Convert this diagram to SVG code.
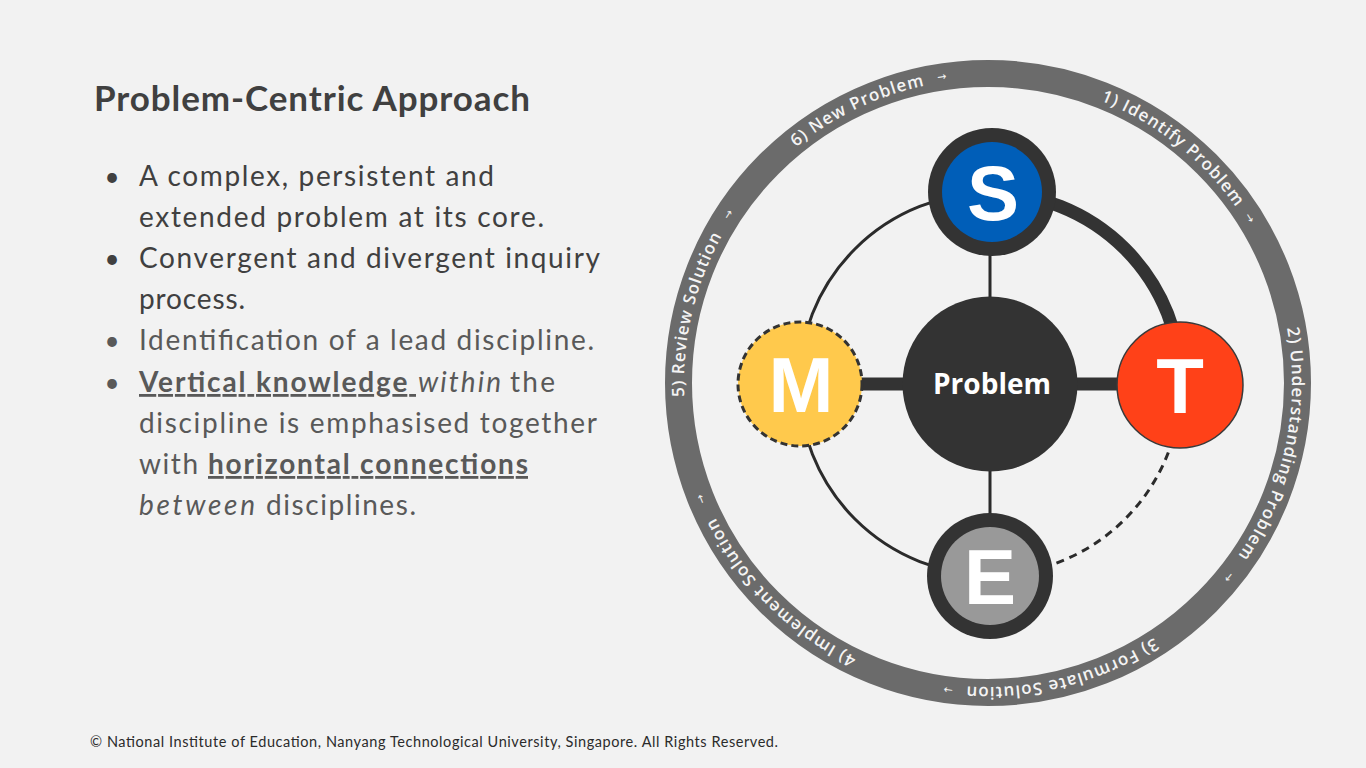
<svg xmlns="http://www.w3.org/2000/svg" width="1366" height="768" viewBox="0 0 1366 768">
  <style>
    .title { font-family: Lato, "Open Sans", sans-serif; font-weight: 700; font-size: 35px; fill: #404040; }
    .body { font-family: Lato, "Open Sans", sans-serif; font-size: 28px; fill: #404040; }
    .soft { fill: #595959; }
    .b { font-weight: 700; }
    .i { font-style: italic; }
    .u { text-decoration: underline; }
    .bullet { font-family: Lato, "Open Sans", sans-serif; font-size: 26px; text-anchor: middle; }
    .foot { font-family: Lato, "Open Sans", sans-serif; font-size: 14.5px; fill: #2b2b2b; }
    .ringtxt { font-family: "Open Sans", sans-serif; font-size: 17px; font-weight: 600; fill: #f4f4f4; letter-spacing: 1px; text-anchor: middle; }
    .arrow { font-family: "DejaVu Sans", sans-serif; font-size: 11px; fill: #f4f4f4; text-anchor: middle; }
    .letter { font-family: "Liberation Sans", Arial, sans-serif; font-weight: 700; font-size: 78px; fill: #ffffff; text-anchor: middle; }
    .core { font-family: "Open Sans", sans-serif; font-weight: 700; font-size: 28px; fill: #ffffff; text-anchor: middle; }
    .thin { fill: none; stroke: #2b2b2b; stroke-width: 3; }
    .thick { fill: none; stroke: #333333; stroke-width: 13; }
  </style>
  <defs>
    <!-- clockwise circles for the cycle labels: one starting at the left point, one at the bottom -->
    <path id="labelTrack" d="M 684 383 A 304 304 0 1 1 1292 383 A 304 304 0 1 1 684 383"/>
    <path id="labelTrackB" d="M 988 687 A 304 304 0 1 1 988 79 A 304 304 0 1 1 988 687"/>
    <path id="arrowTrack" d="M 682 383 A 306 306 0 1 1 1294 383 A 306 306 0 1 1 682 383"/>
  </defs>

  <rect width="1366" height="768" fill="#f2f2f2"/>

  <!-- left column text -->
  <g id="text-panel">
    <text class="title" x="94" y="111" textLength="436">Problem-Centric Approach</text>

    <text class="bullet" x="112" y="186" fill="#404040">•</text>
    <text class="body" x="139" y="186" textLength="355">A complex, persistent and</text>
    <text class="body" x="139" y="227" textLength="405">extended problem at its core.</text>

    <text class="bullet" x="112" y="268" fill="#404040">•</text>
    <text class="body" x="139" y="268" textLength="461">Convergent and divergent inquiry</text>
    <text class="body" x="139" y="309" textLength="106">process.</text>

    <text class="bullet" x="112" y="350" fill="#595959">•</text>
    <text class="body soft" x="139" y="350" textLength="455">Identification of a lead discipline.</text>

    <text class="bullet" x="112" y="392" fill="#595959">•</text>
    <text class="body soft b u" x="139" y="392" textLength="277" xml:space="preserve">Vertical knowledge </text>
    <text class="body soft i" x="418" y="392" textLength="83">within</text>
    <text class="body soft" x="510" y="392" textLength="45">the</text>
    <text class="body soft" x="139" y="433" textLength="458">discipline is emphasised together</text>
    <text class="body soft" x="139" y="474" textLength="59">with</text>
    <text class="body soft b u" x="208" y="474" textLength="320">horizontal connections</text>
    <text class="body soft i" x="139" y="515" textLength="116">between</text>
    <text class="body soft" x="266" y="515" textLength="150">disciplines.</text>
  </g>

  <!-- outer process ring with its six stages -->
  <g id="cycle-ring">
    <circle cx="988" cy="383" r="309.5" fill="none" stroke="#6b6b6b" stroke-width="27"/>
    <text class="ringtxt"><textPath href="#labelTrack" startOffset="17.9%">6) New Problem</textPath></text>
    <text class="ringtxt"><textPath href="#labelTrack" startOffset="35.63%">1) Identify Problem</textPath></text>
    <text class="ringtxt"><textPath href="#labelTrack" startOffset="53.39%">2) Understanding Problem</textPath></text>
    <text class="ringtxt"><textPath href="#labelTrack" startOffset="70.99%">3) Formulate Solution</textPath></text>
    <text class="ringtxt"><textPath href="#labelTrack" startOffset="87.43%">4) Implement Solution</textPath></text>
    <text class="ringtxt"><textPath href="#labelTrackB" startOffset="28.68%">5) Review Solution</textPath></text>
    <text class="arrow"><textPath href="#arrowTrack" startOffset="22.61%">→</textPath></text>
    <text class="arrow"><textPath href="#arrowTrack" startOffset="41.03%">→</textPath></text>
    <text class="arrow"><textPath href="#arrowTrack" startOffset="60.81%">→</textPath></text>
    <text class="arrow"><textPath href="#arrowTrack" startOffset="77.06%">→</textPath></text>
    <text class="arrow"><textPath href="#arrowTrack" startOffset="93.89%">→</textPath></text>
    <text class="arrow"><textPath href="#arrowTrack" startOffset="9.17%">→</textPath></text>
  </g>

  <!-- links between the disciplines and to the core problem -->
  <g id="connectors">
    <path class="thick" d="M 990 193 A 191 191 0 0 1 1181 384" stroke-width="12"/>
    <path class="thin" d="M 1181 384 A 191 191 0 0 1 990 575" stroke-dasharray="8 6"/>
    <path class="thin" d="M 990 575 A 191 191 0 0 1 799 384"/>
    <path class="thin" d="M 799 384 A 191 191 0 0 1 990 193"/>
    <line class="thin" x1="990" y1="250" x2="990" y2="300"/>
    <line class="thin" x1="990" y1="468" x2="990" y2="518"/>
    <line class="thick" x1="855" y1="384" x2="910" y2="384"/>
    <line class="thick" x1="1070" y1="384" x2="1125" y2="384"/>
  </g>

  <g id="node-problem">
    <circle cx="990" cy="384" r="87.5" fill="#333333"/>
    <text class="core" x="992" y="394">Problem</text>
  </g>

  <g id="node-s">
    <circle cx="992" cy="192" r="64" fill="#333333"/>
    <circle cx="992" cy="192" r="50" fill="#005eb8"/>
    <text class="letter" x="993" y="220">S</text>
  </g>

  <g id="node-t">
    <circle cx="1180" cy="385" r="63" fill="#ff4118" stroke="#3a3a3a" stroke-width="1.5"/>
    <text class="letter" x="1180" y="413">T</text>
  </g>

  <g id="node-m">
    <circle cx="800" cy="384" r="62" fill="#ffc94c" stroke="#333333" stroke-width="3" stroke-dasharray="7 4"/>
    <text class="letter" x="801" y="412">M</text>
  </g>

  <g id="node-e">
    <circle cx="990" cy="576" r="63" fill="#333333"/>
    <circle cx="990" cy="576" r="49" fill="#999999"/>
    <text class="letter" x="990" y="604">E</text>
  </g>

  <text class="foot" x="90" y="747" textLength="688">© National Institute of Education, Nanyang Technological University, Singapore. All Rights Reserved.</text>
</svg>
